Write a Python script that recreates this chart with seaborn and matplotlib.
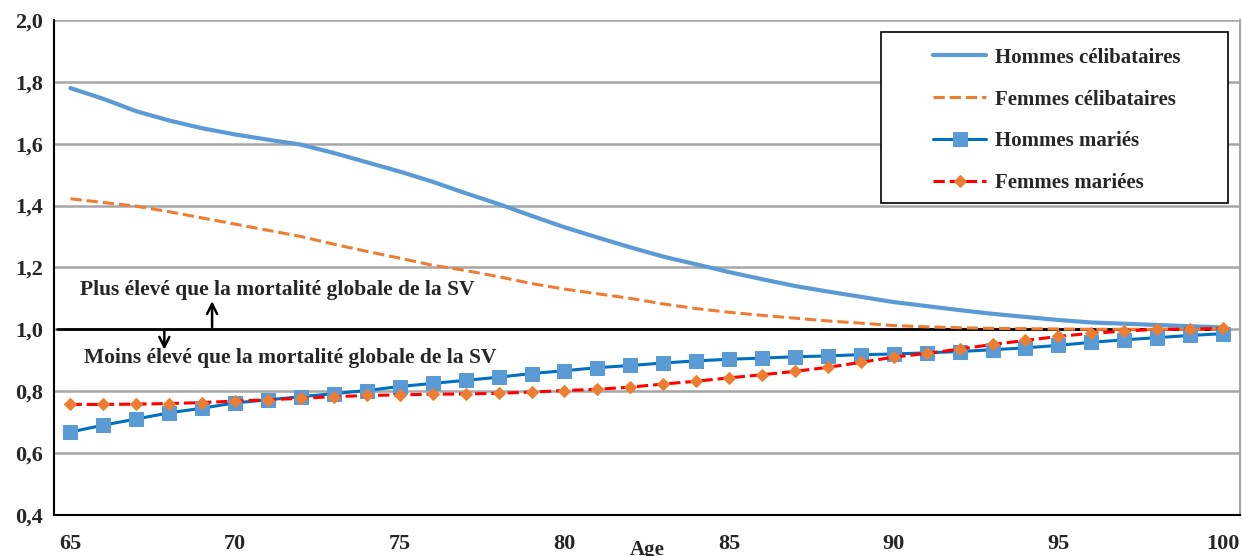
import numpy as np
import pandas as pd
import matplotlib
matplotlib.use('Agg')
import matplotlib.pyplot as plt
from matplotlib.patches import Rectangle
from matplotlib.ticker import FixedLocator, FuncFormatter
import seaborn as sns

# ── Data ─────────────────────────────────────────────────────────────
ages = list(range(65, 101))

hommes_celib = [1.78, 1.745, 1.705, 1.675, 1.65, 1.63, 1.613, 1.597, 1.57, 1.54,
                1.51, 1.477, 1.44, 1.405, 1.367, 1.33, 1.297, 1.265, 1.235, 1.21,
                1.185, 1.162, 1.14, 1.122, 1.105, 1.088, 1.075, 1.062, 1.05, 1.04,
                1.03, 1.022, 1.018, 1.014, 1.01, 1.006]

femmes_celib = [1.422, 1.41, 1.398, 1.38, 1.36, 1.34, 1.32, 1.30, 1.275, 1.252,
                1.23, 1.207, 1.19, 1.17, 1.148, 1.13, 1.115, 1.10, 1.082, 1.067,
                1.055, 1.045, 1.036, 1.027, 1.02, 1.012, 1.008, 1.005, 1.003, 1.002,
                1.001, 1.0, 1.0, 1.0, 1.0, 1.0]

hommes_maries = [0.668, 0.69, 0.71, 0.73, 0.745, 0.762, 0.772, 0.782, 0.792, 0.802,
                 0.815, 0.825, 0.835, 0.845, 0.857, 0.866, 0.876, 0.883, 0.891, 0.898,
                 0.903, 0.907, 0.911, 0.914, 0.918, 0.92, 0.924, 0.928, 0.934, 0.94,
                 0.948, 0.958, 0.966, 0.973, 0.98, 0.986]

femmes_mariees = [0.757, 0.757, 0.758, 0.76, 0.763, 0.768, 0.772, 0.777, 0.782, 0.786,
                  0.788, 0.79, 0.791, 0.793, 0.797, 0.802, 0.806, 0.813, 0.823, 0.832,
                  0.843, 0.853, 0.864, 0.877, 0.893, 0.91, 0.922, 0.936, 0.951, 0.964,
                  0.977, 0.987, 0.994, 1.0, 1.001, 1.003]

y_ticks = [0.4, 0.6, 0.8, 1.0, 1.2, 1.4, 1.6, 1.8, 2.0]
x_labels = [65, 70, 75, 80, 85, 90, 95, 100]

txt_haut = "Plus élevé que la mortalité globale de la SV"
txt_bas = "Moins élevé que la mortalité globale de la SV"

df = pd.DataFrame({'Age': ages,
                   'Hommes célibataires': hommes_celib,
                   'Femmes célibataires': femmes_celib,
                   'Hommes mariés': hommes_maries,
                   'Femmes mariées': femmes_mariees})

# ── Style ────────────────────────────────────────────────────────────
sns.set_theme(style='white')
plt.rcParams['font.family'] = ['Liberation Serif', 'DejaVu Serif']
plt.rcParams['font.weight'] = 'bold'

fig = plt.figure(figsize=(12.42, 5.56), dpi=100)
ax = fig.add_axes([0.0435, 0.074, 0.9545, 0.89])

sns.lineplot(data=df, x='Age', y='Hommes célibataires', ax=ax,
             color='#5B9BD5', linewidth=3, label='Hommes célibataires')
sns.lineplot(data=df, x='Age', y='Femmes célibataires', ax=ax,
             color='#ED7D31', linewidth=2.2, dashes=(4, 3.5), linestyle='--',
             label='Femmes célibataires')
sns.lineplot(data=df, x='Age', y='Hommes mariés', ax=ax,
             color='#0070C0', linewidth=2.2, marker='s', markersize=10,
             markerfacecolor='#5B9BD5', markeredgecolor='#5B9BD5',
             label='Hommes mariés')
sns.lineplot(data=df, x='Age', y='Femmes mariées', ax=ax,
             color='#FF0000', linewidth=2.2, dashes=(4, 3), linestyle='--',
             marker='D', markersize=6.5,
             markerfacecolor='#ED7D31', markeredgecolor='#ED7D31',
             label='Femmes mariées')

# reference line at 1.0
ax.plot([ages[0] - 0.4, ages[-1]], [1.0, 1.0], color='black', linewidth=2, zorder=1.5)

# annotations
ax.text(65.3, 1.128, txt_haut, fontsize=15.5, fontweight='bold', ha='left', va='center')
ax.text(65.4, 0.906, txt_bas, fontsize=15.5, fontweight='bold', ha='left', va='center')
ax.annotate('', xy=(69.3, 1.1), xytext=(69.3, 0.998),
            arrowprops=dict(arrowstyle='->', color='black', lw=1.8, mutation_scale=18))
ax.annotate('', xy=(67.85, 0.925), xytext=(67.85, 1.002),
            arrowprops=dict(arrowstyle='->', color='black', lw=1.8, mutation_scale=18))

# axes
ax.set_xlim(64.5, 100.5)
ax.set_ylim(0.4, 2.0)
ax.set_yticks(y_ticks)
ax.yaxis.set_major_formatter(FuncFormatter(lambda v, p: f'{v:.1f}'.replace('.', ',')))
ax.set_xticks(x_labels)
ax.xaxis.set_minor_locator(FixedLocator(np.arange(64.5, 101, 1)))
ax.tick_params(axis='x', which='major', length=0, labelsize=16, pad=14)
ax.tick_params(axis='x', which='minor', length=6, width=1, color='black', direction='out')
ax.tick_params(axis='y', which='major', length=5, width=1, color='black',
               direction='out', labelsize=16, pad=3)
for lab in ax.get_xticklabels() + ax.get_yticklabels():
    lab.set_fontweight('bold')

ax.grid(axis='y', color='#A6A6A6', linewidth=1.8)
ax.set_axisbelow(True)
ax.spines['left'].set_color('black')
ax.spines['bottom'].set_color('black')
ax.spines['left'].set_linewidth(1.5)
ax.spines['bottom'].set_linewidth(1.5)
ax.spines['top'].set_visible(False)
ax.spines['right'].set_color('#A6A6A6')
ax.spines['right'].set_linewidth(1.5)

ax.set_ylabel('')
ax.set_xlabel('Age', fontsize=15, fontweight='bold')
ax.xaxis.set_label_coords(0.5, -0.05)

# legend: white box drawn separately, with a wide left margin
box = Rectangle((0.698, 0.630), 0.292, 0.346, transform=ax.transAxes,
                facecolor='white', edgecolor='black', linewidth=1.2, zorder=4.5)
ax.add_patch(box)
leg = ax.legend(loc='upper left', bbox_to_anchor=(0.7416, 0.944), frameon=False,
                prop={'family': 'Liberation Serif', 'weight': 'bold', 'size': 15},
                handlelength=2.55, labelspacing=1.05, borderpad=0,
                borderaxespad=0, handletextpad=0.4)
leg.set_zorder(5)

plt.savefig('out.png', dpi=100)
